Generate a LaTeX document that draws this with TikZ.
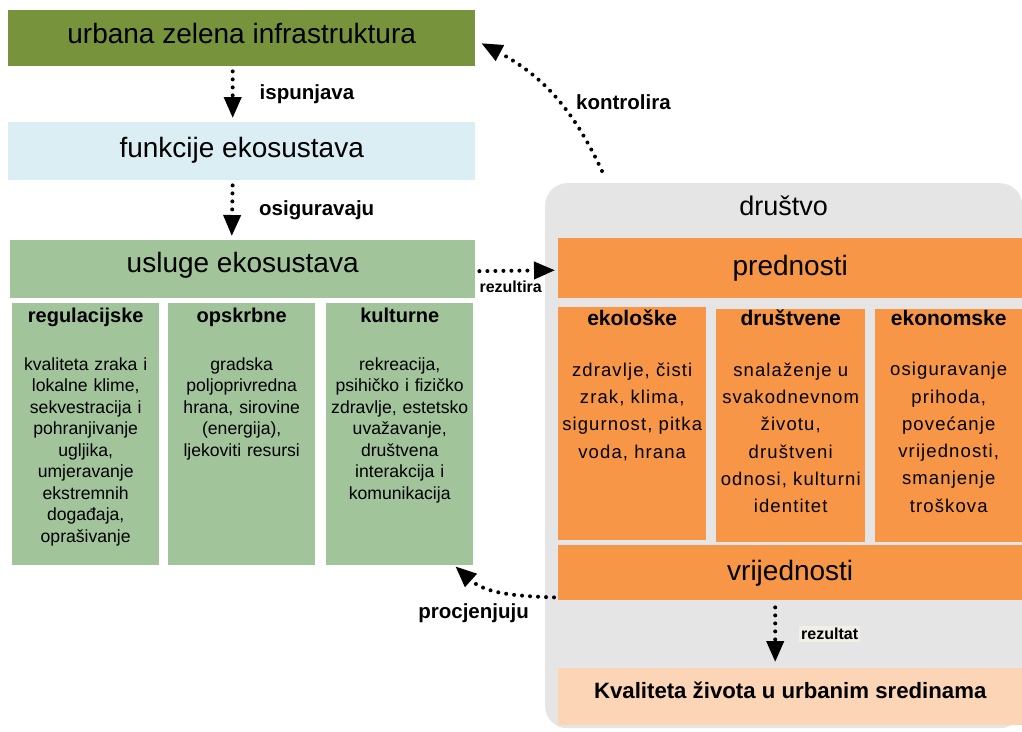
\documentclass[tikz,border=0pt]{standalone}
\usepackage{fontspec}
\setmainfont{Liberation Sans}
\usetikzlibrary{positioning,arrows.meta}
\definecolor{maslina}{RGB}{119,147,60}
\definecolor{plava}{RGB}{218,238,243}
\definecolor{zelena}{RGB}{161,196,155}
\definecolor{narancasta}{RGB}{247,150,70}
\definecolor{siva}{RGB}{229,229,229}
\definecolor{breskva}{RGB}{251,213,181}
\definecolor{krem}{RGB}{240,240,228}
\newcommand{\zaglavlje}{\bfseries\fontsize{20}{24}\selectfont}
\newcommand{\razmak}{\addfontfeature{LetterSpace=6}}
\tikzset{
  traka/.style={rectangle, anchor=north west, inner sep=0pt, minimum width=#1, font=\fontsize{28}{32}\selectfont},
  stupac/.style={rectangle, anchor=north west, inner sep=0pt, minimum width=147pt},
  zeltekst/.style={text width=146pt, align=center, inner sep=0pt, font=\fontsize{17.6}{21.5}\selectfont},
  narteksti/.style={text width=148pt, align=center, inner sep=0pt, font=\fontsize{18.5}{27.3}\selectfont},
  veza/.style={draw, line width=4pt, dash pattern=on 0pt off 8pt, line cap=round, -{Triangle[width=17pt,length=21pt]}},
  oznaka/.style={font=\bfseries\fontsize{20.5}{24}\selectfont, inner sep=1pt},
  malaoznaka/.style={font=\bfseries\fontsize{16}{19}\selectfont, inner sep=2pt},
}
\begin{document}
\begin{tikzpicture}[x=1pt,y=1pt]
\useasboundingbox[fill=white] (0,0) rectangle (1022,-731);

% zelena infrastruktura i ekosustav
\node[traka=467pt, minimum height=56pt, fill=maslina, text depth=10pt] (urbana) at (8,-10) {urbana zelena infrastruktura};
\node[traka=467pt, minimum height=58pt, fill=plava, text depth=8pt] (funkcije) at (8,-122) {funkcije ekosustava};
\node[traka=465pt, minimum height=58pt, fill=zelena, text depth=14pt] (usluge) at (10,-240) {usluge ekosustava};

\node[stupac, minimum height=262pt, fill=zelena] (reg) at (12,-303) {};
\node[stupac, minimum height=262pt, fill=zelena] (ops) at (168,-303) {};
\node[stupac, minimum height=262pt, fill=zelena] (kul) at (326,-303) {};
\node[zeltekst, below=5pt of reg.north] (regtekst) {{\zaglavlje regulacijske}\\[26pt]
  kvaliteta zraka i\\ lokalne klime,\\ sekvestracija i\\ pohranjivanje\\ ugljika,\\ umjeravanje\\ ekstremnih\\ događaja,\\ oprašivanje};
\node[zeltekst, below=5pt of ops.north] (opstekst) {{\zaglavlje opskrbne}\\[26pt]
  gradska\\ poljoprivredna\\ hrana, sirovine\\ (energija),\\ ljekoviti resursi};
\node[zeltekst, below=5pt of kul.north] (kultekst) {{\zaglavlje kulturne}\\[26pt]
  rekreacija,\\ psihičko i fizičko\\ zdravlje, estetsko\\ uvažavanje,\\ društvena\\ interakcija i\\ komunikacija};

% drustvo
\node[rectangle, anchor=north west, fill=siva, rounded corners=22pt, minimum width=477pt, minimum height=545pt] (drustvo) at (545,-183) {};
\node[font=\fontsize{27}{30}\selectfont, below=9pt of drustvo.north] (drustvonaslov) {društvo};
\node[traka=464pt, minimum height=60pt, fill=narancasta, text depth=6pt] (prednosti) at (558,-238) {prednosti};
\node[stupac, minimum width=148pt, minimum height=233pt, fill=narancasta] (eko) at (558,-307) {};
\node[stupac, minimum width=149pt, minimum height=233pt, fill=narancasta] (drus) at (716,-309) {};
\node[stupac, minimum width=147pt, minimum height=233pt, fill=narancasta] (ekon) at (875,-309) {};
\node[narteksti, below=3pt of eko.north] (ekotekst) {{\zaglavlje\fontsize{21}{24}\selectfont ekološke}\\[23pt]
  \razmak zdravlje, čisti\\ \razmak zrak, klima,\\ \razmak sigurnost, pitka\\ \razmak voda, hrana};
\node[narteksti, below=1pt of drus.north] (drustekst) {{\zaglavlje\fontsize{21}{24}\selectfont društvene}\\[23pt]
  \razmak snalaženje u\\ \razmak svakodnevnom\\ \razmak životu,\\ \razmak društveni\\ \razmak odnosi, kulturni\\ \razmak identitet};
\node[narteksti, below=1pt of ekon.north] (ekontekst) {{\zaglavlje\fontsize{21}{24}\selectfont ekonomske}\\[23pt]
  \razmak osiguravanje\\ \razmak prihoda,\\ \razmak povećanje\\ \razmak vrijednosti,\\ \razmak smanjenje\\ \razmak troškova};
\node[traka=464pt, minimum height=55pt, fill=narancasta, text depth=4pt] (vrijednosti) at (558,-545) {vrijednosti};
\node[traka=464pt, minimum height=57pt, fill=breskva, font=\bfseries\fontsize{22.2}{26}\selectfont, text depth=12pt] (kvaliteta) at (558,-668) {Kvaliteta života u urbanim sredinama};

% veze
\draw[veza, shorten <=5pt, shorten >=4pt] ([xshift=-9pt]urbana.south) -- node[oznaka, right=24pt] {ispunjava} ([xshift=-9pt]funkcije.north);
\draw[veza, shorten <=5pt, shorten >=4pt] ([xshift=-9pt]funkcije.south) -- node[oznaka, right=24pt] {osiguravaju} ([xshift=-11pt]usluge.north);
\draw[veza, shorten <=4pt, shorten >=3pt] ([yshift=-2pt]usluge.east) -- node[malaoznaka, below=6pt, xshift=-6pt] {rezultira} ([yshift=-2pt]prednosti.west);
\draw[veza] ([shift={(57pt,12pt)}]drustvo.north west) to[out=115, in=-28] node[oznaka, pos=0.45, right=14pt] {kontrolira} ([shift={(6pt,-5pt)}]urbana.east);
\draw[veza] ([shift={(-4pt,3pt)}]vrijednosti.south west) to[out=178, in=-42] node[oznaka, pos=0.62, below=13pt, xshift=-16pt] {procjenjuju} ([shift={(-18pt,-1pt)}]kul.south east);
\draw[veza, shorten <=7pt, shorten >=6pt] ([xshift=-15pt]vrijednosti.south) -- node[malaoznaka, fill=krem, right=22pt] {rezultat} ([xshift=-15pt]kvaliteta.north);
\end{tikzpicture}
\end{document}
